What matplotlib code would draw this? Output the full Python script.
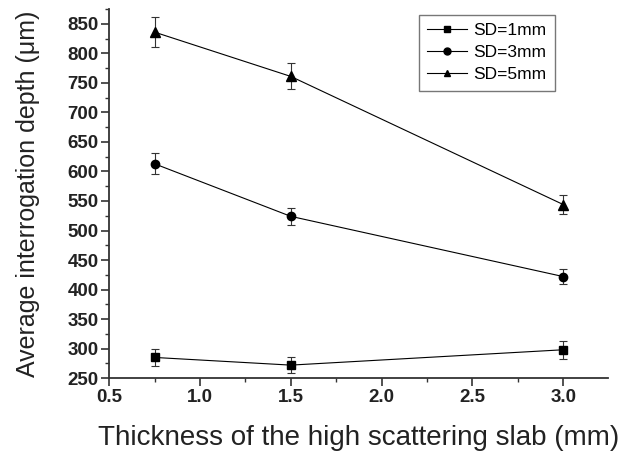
import matplotlib
matplotlib.use("Agg")
import matplotlib.pyplot as plt
from matplotlib.ticker import MultipleLocator
from matplotlib.lines import Line2D

thickness = [0.75, 1.5, 3.0]
sd1 = [285, 272, 298]
sd1_err = [15, 14, 15]
sd3 = [613, 524, 422]
sd3_err = [18, 14, 13]
sd5 = [836, 761, 544]
sd5_err = [25, 22, 16]
labels = ["SD=1mm", "SD=3mm", "SD=5mm"]
markers = ['s', 'o', '^']
msizes = [5.5, 6, 7]

plt.rcParams['font.family'] = ['Liberation Sans', 'DejaVu Sans']

fig = plt.figure(figsize=(6.2, 4.55), dpi=100)
ax = fig.add_axes([0.176, 0.169, 0.805, 0.811])

for y, e, m, ms in [(sd1, sd1_err, markers[0], msizes[0]),
                    (sd3, sd3_err, markers[1], msizes[1]),
                    (sd5, sd5_err, markers[2], msizes[2])]:
    ax.errorbar(thickness, y, yerr=e, color='black', marker=m, markersize=ms,
                linewidth=0.8, elinewidth=0.8, capsize=2.7, capthick=0.8,
                ecolor='#333333')

ax.set_xlim(0.5, 3.248)
ax.set_ylim(250, 875)
ax.xaxis.set_major_locator(MultipleLocator(0.5))
ax.xaxis.set_minor_locator(MultipleLocator(0.25))
ax.yaxis.set_major_locator(MultipleLocator(50))
ax.yaxis.set_minor_locator(MultipleLocator(25))
ax.spines['top'].set_visible(False)
ax.spines['right'].set_visible(False)
for s in ['left', 'bottom']:
    ax.spines[s].set_linewidth(1.3)
    ax.spines[s].set_color('#333333')
ax.tick_params(which='major', direction='out', length=5.5, width=1.2, labelsize=13.5,
               pad=2, color='#333333', labelcolor='#222222')
ax.tick_params(which='minor', direction='out', length=3, width=1.0, color='#333333')
for lbl in ax.get_xticklabels() + ax.get_yticklabels():
    lbl.set_fontweight('bold')

ax.set_xlabel("Thickness of the high scattering slab (mm)", fontsize=20, labelpad=14,
              color='#222222')
ax.set_ylabel("Average interrogation depth (μm)", fontsize=18, labelpad=20,
              color='#222222')

handles = [Line2D([], [], color='black', marker=m, markersize=5, linewidth=0.8)
           for m in markers]
leg = ax.legend(handles, labels, loc='upper left', bbox_to_anchor=(0.62, 0.985),
                fontsize=12.5, frameon=True, fancybox=False, edgecolor='#555555',
                handlelength=2.3, handletextpad=0.35, borderpad=0.5,
                labelspacing=0.38, borderaxespad=0)
leg.get_frame().set_linewidth(1.0)

fig.savefig("out.png", dpi=100)
